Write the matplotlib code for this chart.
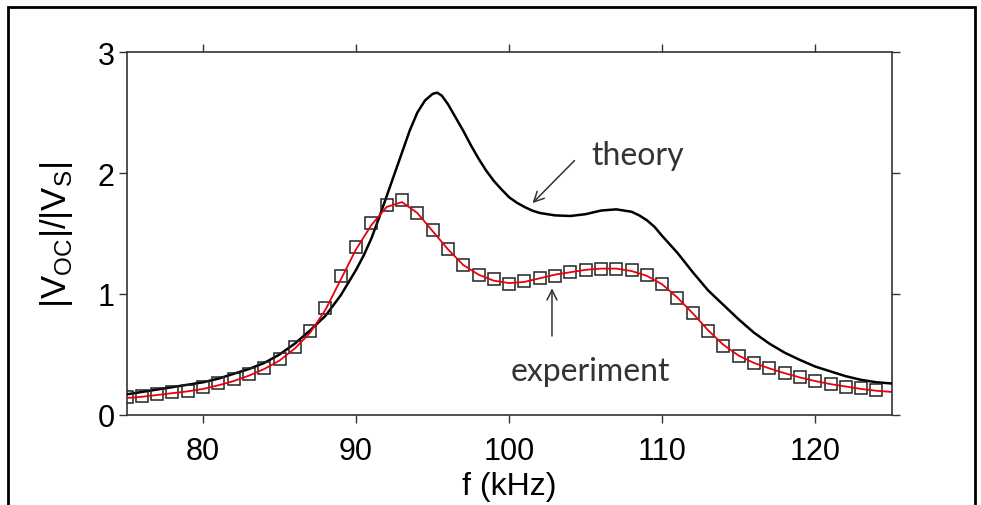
import numpy as np
import matplotlib.pyplot as plt
from matplotlib.patches import Rectangle

# theory curve, |Voc|/|Vs| vs f (kHz)
f_theory = [75, 76, 77, 78, 79, 80, 81, 82, 83, 84, 85, 86, 87, 88, 89, 90, 90.5, 91, 91.5,
            92, 92.5, 93, 93.5, 94, 94.5, 95, 95.3, 95.6, 96, 96.5, 97, 97.5, 98, 98.5, 99,
            99.5, 100, 100.5, 101, 101.5, 102, 103, 104, 105, 106, 107, 108, 108.5, 109,
            109.5, 110, 111, 112, 113, 114, 115, 116, 117, 118, 119, 120, 121, 122, 123,
            124, 125]
v_theory = [0.17, 0.19, 0.21, 0.23, 0.25, 0.27, 0.30, 0.34, 0.38, 0.43, 0.50, 0.59, 0.70,
            0.82, 0.99, 1.20, 1.32, 1.46, 1.63, 1.81, 1.99, 2.17, 2.35, 2.50, 2.60, 2.655,
            2.665, 2.64, 2.57, 2.46, 2.35, 2.23, 2.12, 2.02, 1.935, 1.865, 1.80, 1.755,
            1.72, 1.69, 1.67, 1.65, 1.645, 1.66, 1.69, 1.70, 1.68, 1.65, 1.61, 1.555, 1.48,
            1.34, 1.18, 1.03, 0.91, 0.79, 0.68, 0.59, 0.515, 0.455, 0.40, 0.36, 0.32, 0.29,
            0.27, 0.26]

# measured points
f_exp = list(range(75, 125))
v_exp = [0.145, 0.16, 0.17, 0.19, 0.20, 0.23, 0.26, 0.30, 0.34, 0.39, 0.46, 0.56, 0.69,
         0.885, 1.15, 1.39, 1.59, 1.735, 1.78, 1.67, 1.53, 1.37, 1.24, 1.16, 1.12, 1.08,
         1.11, 1.13, 1.15, 1.18, 1.20, 1.21, 1.21, 1.20, 1.16, 1.08, 0.97, 0.84, 0.69,
         0.57, 0.49, 0.43, 0.39, 0.345, 0.315, 0.28, 0.255, 0.235, 0.22, 0.21]

# red fit through the measurements
f_fit = list(range(75, 126))
v_fit = [0.14, 0.15, 0.165, 0.18, 0.195, 0.215, 0.245, 0.28, 0.325, 0.38, 0.45, 0.55, 0.68,
         0.87, 1.12, 1.37, 1.57, 1.72, 1.76, 1.67, 1.52, 1.37, 1.24, 1.16, 1.11, 1.09,
         1.10, 1.13, 1.16, 1.18, 1.20, 1.21, 1.21, 1.19, 1.15, 1.08, 0.97, 0.84, 0.70,
         0.58, 0.49, 0.43, 0.385, 0.345, 0.31, 0.28, 0.255, 0.235, 0.215, 0.20, 0.19]

axfont = 'Liberation Sans'

fig = plt.figure(figsize=(9.81, 5.06), dpi=100)
ax = fig.add_axes([0.129, 0.178, 0.78, 0.717])

ax.plot(f_theory, v_theory, color='black', lw=1.8, zorder=3)
ax.plot(f_exp, v_exp, ls='none', marker='s', ms=8, mfc='none', mec='#222222',
        mew=1.1, zorder=4)
ax.plot(f_fit, v_fit, color='#e8000b', lw=1.3, zorder=5)

ax.set_xlim(75, 125)
ax.set_ylim(0, 3)
ax.set_xticks([80, 90, 100, 110, 120])
ax.set_yticks([0, 1, 2, 3])
ax.tick_params(direction='out', length=5.5, width=1.0, color='#333333',
               top=True, right=True, labeltop=False, labelright=False,
               labelsize=22)
ax.tick_params(axis='x', pad=10)
ax.tick_params(axis='y', pad=3)
for lab in ax.get_xticklabels() + ax.get_yticklabels():
    lab.set_fontfamily(axfont)
for sp in ax.spines.values():
    sp.set_color('#333333')
    sp.set_linewidth(1.2)

ax.set_xlabel('f (kHz)', fontsize=23, family=axfont, labelpad=3)
ax.set_ylabel(r'|V$_{\mathregular{OC}}$|/|V$_{\mathregular{S}}$|', fontsize=25,
              family=axfont, labelpad=16)

# labels with arrows
ax.text(105.4, 2.15, 'theory', fontsize=23, family='Lato', color='#333333',
        va='center', ha='left')
ax.annotate('', xy=(101.4, 1.735), xytext=(104.4, 2.12),
            arrowprops=dict(arrowstyle='->', color='#333333', lw=1.1,
                            mutation_scale=18))
ax.text(100.1, 0.36, 'experiment', fontsize=23, family='Lato', color='#333333',
        va='center', ha='left')
ax.annotate('', xy=(102.8, 1.07), xytext=(102.8, 0.63),
            arrowprops=dict(arrowstyle='->', color='#333333', lw=1.1,
                            mutation_scale=18))

# outer frame
fig.patches.append(Rectangle((8 / 981, -0.05), 967 / 981, 1.05 - 8 / 506,
                             transform=fig.transFigure, fill=False,
                             edgecolor='black', lw=2.0))

fig.savefig('out.png', dpi=100)
